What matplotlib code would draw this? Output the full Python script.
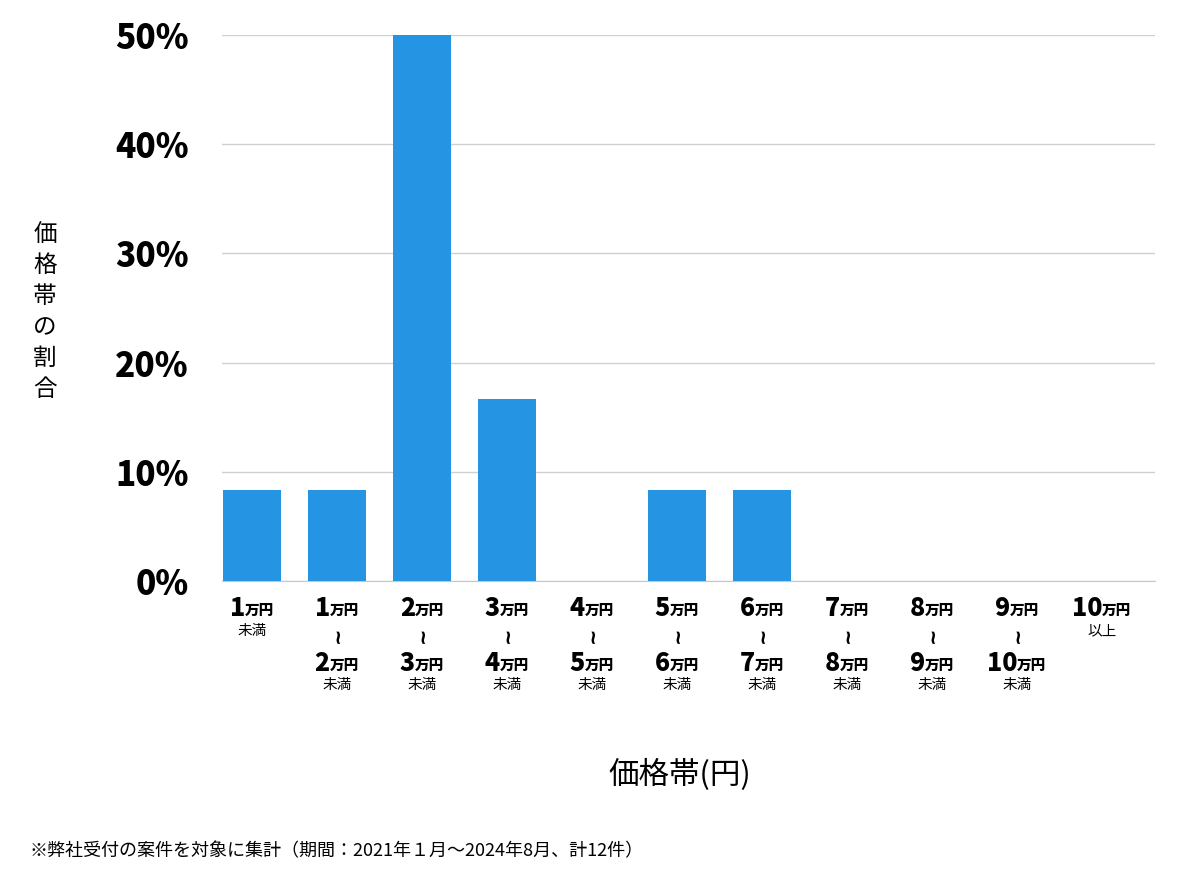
import matplotlib
matplotlib.use("Agg")
import matplotlib.pyplot as plt
import matplotlib.transforms as mtransforms

plt.rcParams['font.family'] = ['Noto Sans CJK JP', 'DejaVu Sans']

lo_vals = ["1", "1", "2", "3", "4", "5", "6", "7", "8", "9", "10"]
hi_vals = [None, "2", "3", "4", "5", "6", "7", "8", "9", "10", None]
suffix = ["未満"] + ["未満"] * 9 + ["以上"]
shares = [8.33, 8.33, 50.0, 16.67, 0, 8.33, 8.33, 0, 0, 0, 0]
yticks = [0, 10, 20, 30, 40, 50]

W, H = 1200, 874
fig = plt.figure(figsize=(12, 8.74), dpi=100)
ax = fig.add_axes([222 / W, 1 - 581 / H, 933 / W, 546 / H])

x = list(range(len(shares)))
ax.bar(x, shares, width=0.68, color="#2594E3", zorder=3)
ax.set_xlim(-0.35, 10.62)
ax.set_ylim(0, 50)
ax.set_yticks(yticks)
ax.set_yticklabels([f"{v}%" for v in yticks], fontsize=24, fontweight="black")
ax.tick_params(axis="y", length=0, pad=24)
ax.set_xticks([])
ax.grid(axis="y", color="#d0d0d0", linewidth=1, zorder=0)
for s in ["top", "right", "left"]:
    ax.spines[s].set_visible(False)
ax.spines["bottom"].set_color("#c8c8c8")

tr = mtransforms.blended_transform_factory(ax.transData, fig.transFigure)


def yen(xi, yp, num):
    yf = 1 - yp / H
    off_px = (len(num) * 14 - 28) / 2
    t1 = mtransforms.offset_copy(tr, fig=fig, x=off_px * 0.72, y=0, units="points")
    ax.text(xi, yf, num, transform=t1, ha="right", va="center",
            fontsize=18, fontweight="black", clip_on=False)
    t2 = mtransforms.offset_copy(tr, fig=fig, x=off_px * 0.72, y=-1.5, units="points")
    ax.text(xi, yf, "万円", transform=t2, ha="left", va="center",
            fontsize=10.5, fontweight="black", clip_on=False)


for i in x:
    yen(i, 608, lo_vals[i])
    if hi_vals[i] is None:
        ax.text(i, 1 - 631 / H, suffix[i], transform=tr, ha="center",
                va="center", fontsize=10.5, clip_on=False)
    else:
        ax.text(i, 1 - 635 / H, "~", transform=tr, ha="center", va="center",
                fontsize=14, rotation=90, rotation_mode="anchor",
                family="DejaVu Sans", fontweight="bold", clip_on=False)
        yen(i, 663, hi_vals[i])
        ax.text(i, 1 - 685 / H, suffix[i], transform=tr, ha="center",
                va="center", fontsize=10.5, clip_on=False)

fig.text(45 / W, 1 - 312 / H, "価\n格\n帯\nの\n割\n合", ha="center",
         va="center", fontsize=17, linespacing=1.45)
fig.text(680 / W, 1 - 775 / H, "価格帯(円)", ha="center", va="center",
         fontsize=22)
fig.text(30 / W, 1 - 851 / H,
         "※弊社受付の案件を対象に集計（期間：2021年１月〜2024年8月、計12件）",
         ha="left", va="center", fontsize=13)

fig.savefig("out.png", dpi=100)
